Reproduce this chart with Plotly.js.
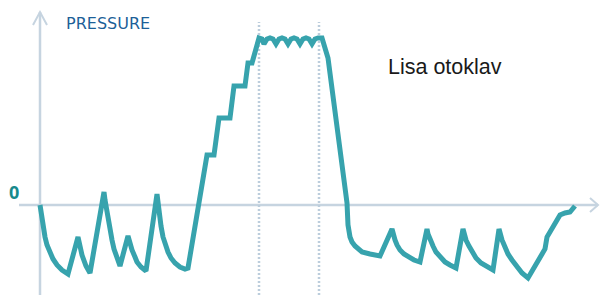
<!DOCTYPE html>
<html>
<head>
<meta charset="utf-8">
<script src="https://cdn.plot.ly/plotly-3.0.1.min.js"></script>
<style>html,body{margin:0;padding:0;background:#fff;}#chart{width:600px;height:295px;}</style>
</head>
<body>
<div id="chart"></div>
<script>
const time = [40,41,42,43,45,47,50,53,57,62,68,78,82,86,90,104,105,107,109,112,114,117,120,128,130,132,135,137,141,146,157,158,159,161,163,165,168,171,175,180,185,188,207,214,219,230,234,245,248,252,259,262,264,267,270,273,276,279,282,285,288,291,294,297,300,303,306,309,312,315,318,322,328,347,347,348,350,352,355,358,362,370,380,392,393,395,397,400,404,408,414,420,427,428,430,433,436,440,445,450,456,463,464,466,469,472,476,481,487,493,499,500,502,505,508,512,516,522,528,545,547,552,555,560,565,570,575];
const pressure = [0,-7,-12,-20,-32,-40,-48,-54,-60,-65,-69,-32,-50,-61,-68,13,5,-8,-21,-35,-44,-52,-61,-31,-39,-45,-52,-57,-62,-66,11,2,-8,-21,-32,-40,-47,-53,-58,-62,-64,-63,50,50,87,87,119,119,142,142,167,166,161,166,167,166,161,166,167,166,161,166,167,166,161,166,167,166,161,166,167,167,147,2,-10,-20,-32,-37,-41,-44,-47,-49,-51,-24,-29,-35,-40,-45,-49,-52,-55,-57,-24,-29,-35,-41,-47,-52,-57,-60,-63,-24,-29,-35,-41,-47,-53,-58,-62,-65,-24,-29,-35,-42,-49,-55,-61,-68,-73,-44,-32,-23,-17,-10,-8,-7,-1];
const holdStart = 259, holdEnd = 319;
const yLabel = "PRESSURE";
const zeroLabel = "0";
const note = "Lisa otoklav";

const axisColor = '#c6d4e0';
const dotColor = '#bccddc';
const trace = {
  x: time, y: pressure, mode: 'lines', type: 'scatter',
  line: {color: '#37a3ad', width: 5, shape: 'linear'},
  hoverinfo: 'skip'
};
const layout = {
  width: 600, height: 295,
  margin: {l: 0, r: 0, t: 0, b: 0},
  paper_bgcolor: '#fff', plot_bgcolor: '#fff',
  showlegend: false,
  xaxis: {range: [0, 600], visible: false, fixedrange: true},
  yaxis: {range: [-90, 205], visible: false, fixedrange: true},
  shapes: [
    {type: 'line', layer: 'below', x0: 19, x1: 598, y0: 0, y1: 0, line: {color: axisColor, width: 2.5}},
    {type: 'path', layer: 'below', path: 'M 590 7 L 598 0 L 590 -7', line: {color: axisColor, width: 2}},
    {type: 'line', layer: 'below', x0: 40, x1: 40, y0: -90, y1: 193, line: {color: axisColor, width: 2.5}},
    {type: 'path', layer: 'below', path: 'M 33 180 L 40 193 L 47 180', line: {color: axisColor, width: 2}},
    {type: 'line', layer: 'below', x0: holdStart, x1: holdStart, y0: -90, y1: 183, line: {color: dotColor, width: 2.5, dash: '2px,2px'}},
    {type: 'line', layer: 'below', x0: holdEnd, x1: holdEnd, y0: -90, y1: 183, line: {color: dotColor, width: 2.5, dash: '2px,2px'}}
  ],
  annotations: [
    {x: 64, y: 182, xanchor: 'left', yanchor: 'middle', text: yLabel, showarrow: false,
     font: {family: 'DejaVu Sans, sans-serif', size: 16, color: '#1d5f98'}},
    {x: 14, y: 13, xanchor: 'center', yanchor: 'middle', text: '<b>' + zeroLabel + '</b>', showarrow: false,
     font: {family: 'Open Sans, sans-serif', size: 18, color: '#178a8c'}},
    {x: 386, y: 138, xanchor: 'left', yanchor: 'middle', text: note, showarrow: false,
     font: {family: 'Liberation Sans, Arial, sans-serif', size: 21.5, color: '#1a1a1a'}}
  ]
};
Plotly.newPlot('chart', [trace], layout, {staticPlot: true, displayModeBar: false});
</script>
</body>
</html>
